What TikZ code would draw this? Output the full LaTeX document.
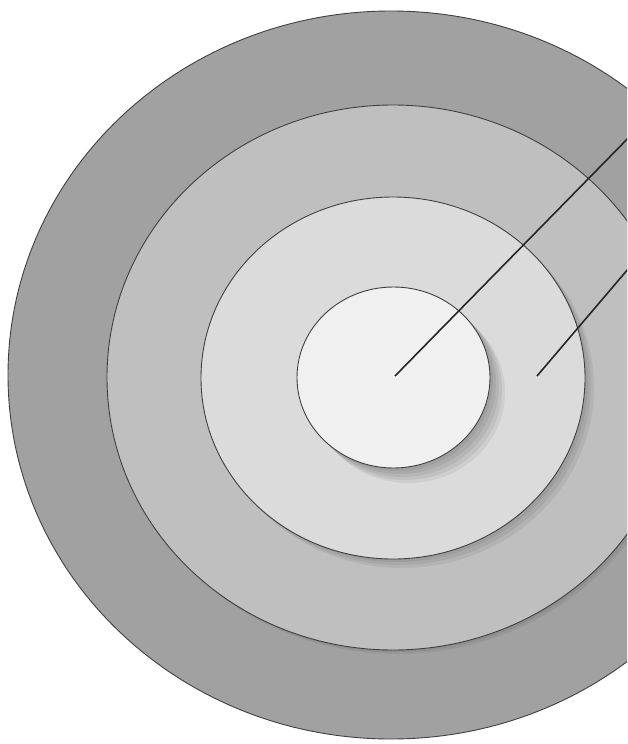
\documentclass[tikz,border=0pt]{standalone}
\begin{document}
\begin{tikzpicture}[x=1pt,y=-1pt,
  ring/.style={draw=black!75,line width=0.9pt},
  pointer/.style={draw=black!85,line width=1.6pt},
  shade/.style={fill=black,opacity=0.06}]
\useasboundingbox (0,0) rectangle (627,744);
\clip (0,0) rectangle (627,744);
\fill[white] (0,0) rectangle (627,744);
% outer ring
\filldraw[ring,fill=black!37] (391,375) ellipse [x radius=383,y radius=364];
% second ring
\foreach \d in {2,4} {\fill[shade] (393+\d,377.5+\d) ellipse [x radius=286,y radius=272.5];}
\filldraw[ring,fill=black!25] (393,377.5) ellipse [x radius=286,y radius=272.5];
% third ring
\foreach \d in {3,6,9} {\fill[shade] (393+\d,378+\d) ellipse [x radius=192,y radius=181];}
\filldraw[ring,fill=black!14] (393,378) ellipse [x radius=192,y radius=181];
% inner
\foreach \d in {3,6,9,12,15} {\fill[shade] (393.5+\d,377.5+\d) ellipse [x radius=96.5,y radius=90.5];}
\filldraw[ring,fill=black!6] (393.5,377.5) ellipse [x radius=96.5,y radius=90.5];
% pointers
\coordinate (c1) at (395,376);
\coordinate (e1) at (640,126);
\coordinate (c2) at (537,376);
\coordinate (e2) at (640,255);
\draw[pointer] (c1) -- (e1);
\draw[pointer] (c2) -- (e2);
\end{tikzpicture}
\end{document}
